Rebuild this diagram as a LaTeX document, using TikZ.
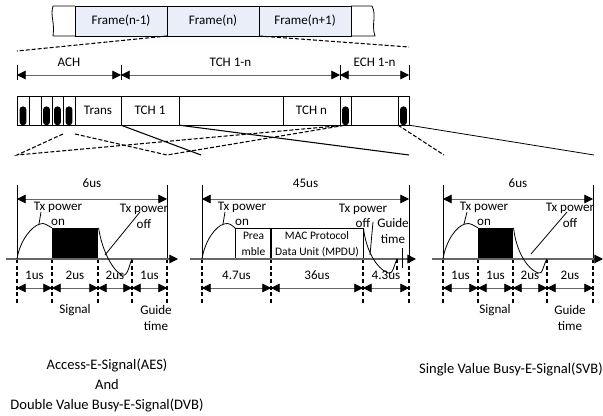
\documentclass[tikz,border=0pt]{standalone}
\usepackage{fontspec}
\setmainfont{Carlito}
\usepackage{xcolor}
\usepackage{tikz}
\usetikzlibrary{arrows.meta, positioning}
\definecolor{frameBlue}{HTML}{E9EEF8}
\definecolor{axisGrey}{HTML}{666666}

\begin{document}
\begin{tikzpicture}[
    x=0.75pt, y=-0.75pt,
    framebox/.style={rectangle, draw=black, fill=frameBlue, minimum width=69pt, minimum height=22.5pt,
                inner sep=0pt, outer sep=0pt, font=\fontsize{9.8}{11}\selectfont},
    slotbox/.style={rectangle, draw=black, minimum height=22pt, inner sep=0pt, outer sep=0pt,
                font=\fontsize{9.8}{11}\selectfont},
    pill/.style={rectangle, fill=black, rounded corners=2.4pt, minimum width=5.2pt, minimum height=14pt,
                inner sep=0pt, outer sep=0pt, anchor=south},
    label/.style={font=\fontsize{9.8}{11}\selectfont, text=black, inner sep=0pt},
    small label/.style={font=\fontsize{8.6}{10}\selectfont, text=black, inner sep=0pt},
    caption/.style={font=\fontsize{10.9}{13}\selectfont, inner sep=0pt},
    dimline/.style={{Triangle[length=6.5pt,width=6.5pt,black]}-{Triangle[length=6.5pt,width=6.5pt,black]}, color=axisGrey, line width=0.6pt},
    axisline/.style={-{Triangle[length=6.5pt,width=6.5pt,black]}, color=axisGrey, line width=0.8pt},
    tickline/.style={black, line width=0.6pt},
    guide/.style={black, dashed, dash pattern=on 3pt off 2pt, line width=0.8pt},
    zoomdash/.style={black, dashed, dash pattern=on 3pt off 1.5pt, line width=0.8pt},
    zoomline/.style={black, line width=0.8pt},
    wave/.style={black, line width=0.6pt}
]
\useasboundingbox (0,0) rectangle (603,416);

% Frames
\node[framebox] (frameA) at (121,21) {Frame(n-1)};
\node[framebox, right=0pt of frameA] (frameB) {Frame(n)};
\node[framebox, right=0pt of frameB] (frameC) {Frame(n+1)};
\coordinate (waveL) at (53,6);
\coordinate (waveLb) at (53,36);
\coordinate (waveR) at (372,6);
\coordinate (waveRb) at (375,36);
\draw[wave] (frameA.north west) -- (waveL) .. controls (50,16) and (55,22) .. (waveLb) -- (frameA.south west);
\draw[wave] (frameC.north east) -- (waveR) .. controls (377,16) and (371,24) .. (waveRb) -- (frameC.south east);

% Zoom from frame n
\coordinate (zoomL) at (17,51);
\coordinate (zoomR) at (409,47);
\draw[zoomdash] (frameB.south west) -- (zoomL);
\draw[zoomdash] (frameB.south east) -- (zoomR);

% Channels
\foreach \n/\x in {chA/17,chB/121,chC/340,chD/409} {
    \coordinate (\n) at (\x,75);
    \coordinate (\n t) at (\x,65);
    \coordinate (\n b) at (\x,80);
    \draw[tickline] (\n t) -- (\n b);
}
\draw[dimline] (chA) -- node[label, above=6pt] {ACH} (chB);
\draw[dimline] (chB) -- node[label, above=6pt] {TCH 1-n} (chC);
\draw[dimline] (chC) -- node[label, above=6pt] {ECH 1-n} (chD);

% Slots
\foreach \n/\a/\b/\t in {sA/17/29/,sB/29/41/,sC/41/52/,sD/52/63/,sE/63/75/,sF/75/121/Trans,sG/121/179/TCH 1,sH/179/283/,sI/283/340/TCH n,sJ/340/351/,sK/351/398/,sL/398/409/} {
    \pgfmathsetmacro{\w}{(\b-\a)*0.75}
    \pgfmathsetmacro{\c}{(\a+\b)/2}
    \node[slotbox, minimum width=\w pt] (\n) at (\c,110.5) {\t};
}
\foreach \n/\s in {pA/sA,pC/sC,pD/sD,pE/sE,pJ/sJ,pL/sL} {
    \node[pill] (\n) at (\s.south) {};
}

% Zoom lines under the slots
\coordinate (ackL) at (63,134);
\coordinate (ackR) at (75,134);
\coordinate (ackA) at (17,155);
\coordinate (ackB) at (167,155);
\coordinate (tchA) at (201,155);
\coordinate (tchB) at (409,155);
\coordinate (echA) at (444,155);
\coordinate (echB) at (594,155);
\draw[zoomdash] (ackL) -- (ackA) -- (pJ.south);
\draw[zoomdash] (ackR) -- (ackB) -- (pJ.south);
\draw[zoomline] (sG.south west) -- (tchA);
\draw[zoomline] (sH.south west) -- (tchB);
\draw[zoomdash] (sL.south west) -- (echA);
\draw[black, line width=0.6pt] (sL.south east) -- (echB);

% Left panel
\foreach \n/\x in {la/17,lb/52,lc/98,ld/132,le/167} {
    \coordinate (\n) at (\x,259);
    \coordinate (\n d) at (\x,288);
    \coordinate (\n e) at (\x,305);
    \draw[guide] (\n) -- (\n e);
}
\coordinate (laT) at (17,185);
\coordinate (leT) at (167,185);
\coordinate (laU) at (17,199);
\coordinate (leU) at (167,199);
\coordinate (lAxisA) at (6,259);
\coordinate (lAxisB) at (178,259);
\draw[tickline] (laT) -- (la);
\draw[tickline] (leT) -- (le);
\draw[dimline] (laU) -- node[label, above=8pt] {6us} (leU);
\node[fill=black, minimum width=34.5pt, minimum height=23pt, inner sep=0pt, anchor=south west] (lSig) at (lb) {};
\draw[axisline] (lAxisA) -- (lAxisB);
\draw[dimline] (lad) -- node[label, above=6pt] {1us} (lbd);
\draw[dimline] (lbd) -- node[label, above=6pt] {2us} (lcd);
\draw[dimline] (lcd) -- node[label, above=6pt] {2us} (ldd);
\draw[dimline] (ldd) -- node[label, above=6pt] {1us} (led);
\coordinate (lOnTop) at (40,224);
\coordinate (lOnLab) at (41,212);
\coordinate (lOffA) at (105,255);
\coordinate (lOffB) at (140,212);
\draw[tickline] (la) .. controls (20,240) and (32,226) .. (lOnTop) .. controls (44,222) and (48,226) .. (lSig.north west);
\draw[tickline] (39,224) -- (lOnLab);
\draw[tickline] (lSig.north east) .. controls (102,250) and (112,270) .. (122,275) .. controls (128,277) and (129,265) .. (ld);
\draw[tickline] (lOffA) -- (lOffB);
\node[label] (lOn) at (58,207) {Tx power};
\node[label] (lOnB) at (58,222) {on};
\node[label] (lOff) at (144,209) {Tx power};
\node[label] (lOffC) at (144,224) {off};
\node[label] (lSigL) at (75,310) {Signal};
\node[label] (lGuide) at (156,310) {Guide};
\node[label] (lTime) at (156,326) {time};

% Middle panel
\foreach \n/\x in {ma/202,mb/271,mc/363,md/409} {
    \coordinate (\n) at (\x,259);
    \coordinate (\n d) at (\x,288);
    \coordinate (\n e) at (\x,305);
    \draw[guide] (\n) -- (\n e);
}
\coordinate (maT) at (202,185);
\coordinate (mdT) at (409,185);
\coordinate (maU) at (202,199);
\coordinate (mdU) at (409,199);
\coordinate (mAxisA) at (190,259);
\coordinate (mAxisB) at (416,259);
\draw[tickline] (maT) -- (ma);
\draw[tickline] (mdT) -- (md);
\draw[dimline] (maU) -- node[label, above=8pt] {45us} (mdU);
\node[draw=black, fill=white, minimum width=26.25pt, minimum height=22.5pt, inner sep=0pt, anchor=south east] (mPre) at (mb) {};
\node[draw=black, fill=white, minimum width=69pt, minimum height=22.5pt, inner sep=0pt, anchor=south west] (mMac) at (mb) {};
\node[small label] (mPreA) at (253.5,236) {Prea};
\node[small label] (mPreB) at (253.5,252) {mble};
\node[small label] (mMacA) at (317,236) {MAC Protocol};
\node[small label] (mMacB) at (317,252) {Data Unit (MPDU)};
\draw[axisline] (mAxisA) -- (mAxisB);
\draw[dimline] (mad) -- node[label, above=6pt] {4.7us} (mbd);
\draw[dimline] (mbd) -- node[label, above=6pt] {36us} (mcd);
\draw[dimline] (mcd) -- node[label, above=6pt] {4.3us} (mdd);
\coordinate (mGap) at (397,259);
\coordinate (mGapB) at (397,270);
\coordinate (mOnLab) at (225,212);
\coordinate (mOffA) at (370,255);
\coordinate (mOffB) at (373,222);
\coordinate (mGdA) at (402,248);
\coordinate (mGdB) at (402,268);
\draw[guide] (mGap) -- (mGapB);
\draw[tickline] (ma) .. controls (205,240) and (216,226) .. (224,224) .. controls (229,222) and (233,226) .. (mPre.north west);
\draw[tickline] (223,224) -- (mOnLab);
\draw[tickline] (mMac.north east) .. controls (366,250) and (376,268) .. (388,273) .. controls (393,275) and (394,265) .. (mGap);
\draw[tickline] (mOffA) -- (mOffB);
\draw[tickline] (mGdA) -- (mGdB);
\node[label] (mOn) at (242,207) {Tx power};
\node[label] (mOnC) at (242,222) {on};
\node[label] (mOff) at (363,209) {Tx power};
\node[label] (mOffC) at (363,223) {off};
\node[label] (mGuide) at (393,223) {Guide};
\node[label] (mTime) at (393,239) {time};

% Right panel
\foreach \n/\x in {ra/443,rb/478,rc/513,rd/547,re/593} {
    \coordinate (\n) at (\x,259);
    \coordinate (\n d) at (\x,288);
    \coordinate (\n e) at (\x,305);
    \draw[guide] (\n) -- (\n e);
}
\coordinate (raT) at (443,185);
\coordinate (reT) at (593,185);
\coordinate (raU) at (443,199);
\coordinate (reU) at (593,199);
\coordinate (rAxisA) at (432,259);
\coordinate (rAxisB) at (603,259);
\draw[tickline] (raT) -- (ra);
\draw[tickline] (reT) -- (re);
\draw[dimline] (raU) -- node[label, above=8pt] {6us} (reU);
\node[fill=black, minimum width=26.25pt, minimum height=23pt, inner sep=0pt, anchor=south west] (rSig) at (rb) {};
\draw[axisline] (rAxisA) -- (rAxisB);
\draw[dimline] (rad) -- node[label, above=6pt] {1us} (rbd);
\draw[dimline] (rbd) -- node[label, above=6pt] {1us} (rcd);
\draw[dimline] (rcd) -- node[label, above=6pt] {2us} (rdd);
\draw[dimline] (rdd) -- node[label, above=6pt] {2us} (red);
\coordinate (rOnLab) at (467,212);
\coordinate (rOffA) at (531,254);
\coordinate (rOffB) at (567,212);
\draw[tickline] (ra) .. controls (446,240) and (457,226) .. (465,224) .. controls (470,222) and (474,226) .. (rSig.north west);
\draw[tickline] (464,224) -- (rOnLab);
\draw[tickline] (rSig.north east) .. controls (516,250) and (526,268) .. (538,273) .. controls (543,275) and (543,265) .. (rd);
\draw[tickline] (rOffA) -- (rOffB);
\node[label] (rOn) at (484,207) {Tx power};
\node[label] (rOnC) at (484,222) {on};
\node[label] (rOff) at (570,208) {Tx power};
\node[label] (rOffC) at (570,223) {off};
\node[label] (rSigL) at (495,310) {Signal};
\node[label] (rGuide) at (570,310) {Guide};
\node[label] (rTime) at (570,326) {time};

% Captions
\node[caption] (capA) at (107,365) {Access-E-Signal(AES)};
\node[caption] (capB) at (107,385) {And};
\node[caption] (capC) at (107,405) {Double Value Busy-E-Signal(DVB)};
\node[caption] (capD) at (511,369) {Single Value Busy-E-Signal(SVB)};

\end{tikzpicture}
\end{document}
